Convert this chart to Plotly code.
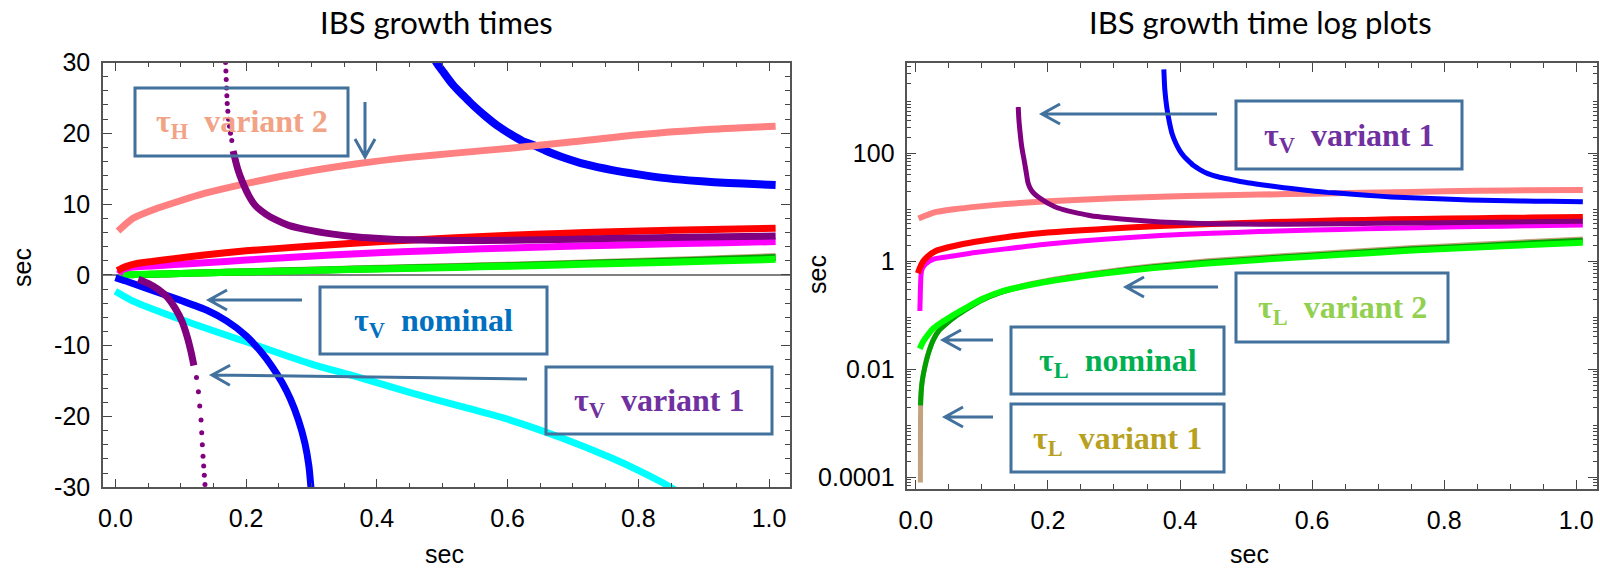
import math
import plotly.graph_objects as go

# ---------------- data ----------------
x_ticks = [0.0, 0.2, 0.4, 0.6, 0.8, 1.0]
x_ticktext = ["0.0", "0.2", "0.4", "0.6", "0.8", "1.0"]
y_ticks_lin = [-30, -20, -10, 0, 10, 20, 30]
y_ticktext_lin = ["-30", "-20", "-10", "0", "10", "20", "30"]
y_ticks_log = [1e-4, 1e-2, 1, 100]
y_ticktext_log = ["0.0001", "0.01", "1", "100"]

# tau_H variant 2 (salmon)
h2_x = [0.004, 0.027, 0.058, 0.097, 0.136, 0.2, 0.3, 0.37, 0.45, 0.52, 0.604, 0.7, 0.8, 0.9, 1.01]
h2_y = [6.2, 8.0, 9.2, 10.4, 11.5, 12.9, 14.7, 15.7, 16.6, 17.2, 17.9, 18.8, 19.8, 20.5, 21.0]

# tau_V nominal (blue), positive branch
vn_x = [0.3755, 0.377, 0.38, 0.384, 0.388, 0.394, 0.40, 0.406, 0.412, 0.42, 0.43, 0.442, 0.46, 0.475,
        0.491, 0.502, 0.515, 0.526, 0.538, 0.549, 0.565, 0.584, 0.604, 0.623, 0.643, 0.662, 0.682,
        0.72, 0.76, 0.8, 0.838, 0.877, 0.916, 0.96, 1.01]
vn_y = [3600, 1500, 700, 370, 230, 150, 110, 88, 74, 60, 50, 42, 36, 33,
        30, 28.6, 27.0, 25.9, 24.8, 23.8, 22.5, 21.1, 19.9, 18.9, 18.2, 17.4, 16.7,
        15.6, 14.8, 14.2, 13.7, 13.35, 13.1, 12.9, 12.7]
# tau_V nominal (blue), negative branch
vn_neg_x = [0.0, 0.02, 0.06, 0.1, 0.14, 0.17, 0.2, 0.222, 0.24, 0.255, 0.268, 0.28, 0.29, 0.296, 0.3]
vn_neg_y = [-0.4, -1.0, -2.3, -3.6, -5.0, -6.5, -8.6, -10.8, -13.0, -15.2, -17.6, -20.5, -23.8, -27.0, -31]

# tau_V variant 1 (purple), positive branch
v1_x = [0.155, 0.156, 0.158, 0.16, 0.162, 0.164, 0.167, 0.17, 0.175, 0.18, 0.187, 0.194, 0.204, 0.214,
        0.23, 0.245, 0.265, 0.292, 0.33, 0.37, 0.41, 0.448, 0.52, 0.604, 0.7, 0.8, 0.9, 1.01]
v1_y = [720, 420, 230, 140, 100, 74, 45, 28, 20.5, 17.5, 15.0, 13.2, 11.2, 9.8,
        8.6, 7.8, 7.0, 6.4, 5.8, 5.35, 5.1, 4.95, 4.85, 4.9, 5.05, 5.2, 5.35, 5.5]
# sampled dots of the steep part (linear panel)
v1_dots_x = [0.1685, 0.169, 0.1695, 0.170, 0.1705, 0.171, 0.172, 0.173, 0.1745, 0.176, 0.178]
v1_dots_y = [30, 28.8, 27.6, 26.4, 25.3, 24.2, 23.1, 22.0, 21.0, 20.0, 19.0]
# negative branch
v1_neg_x = [0.035, 0.05, 0.065, 0.08, 0.092, 0.102, 0.11, 0.116, 0.12]
v1_neg_y = [-0.6, -1.2, -2.0, -3.2, -4.8, -6.6, -8.8, -11.0, -12.8]
v1_neg_dots_x = [0.124, 0.127, 0.129, 0.131, 0.132, 0.133, 0.134, 0.135, 0.136, 0.137]
v1_neg_dots_y = [-14.5, -16.5, -18.5, -20.5, -22.3, -24.0, -25.6, -27.0, -28.3, -29.6]

# cyan (negative)
cy_x = [0.0, 0.027, 0.1, 0.214, 0.3, 0.37, 0.45, 0.53, 0.604, 0.682, 0.76, 0.8, 0.838, 0.86]
cy_y = [-2.3, -3.7, -6.3, -9.9, -12.6, -14.4, -16.6, -18.6, -20.5, -23.0, -25.9, -27.6, -29.4, -30.6]

# red
rd_x = [0.003, 0.006, 0.01, 0.017, 0.03, 0.056, 0.09, 0.136, 0.2, 0.29, 0.37, 0.448, 0.52, 0.604, 0.68, 0.76, 0.85, 0.93, 1.01]
rd_y = [0.6, 0.75, 0.95, 1.2, 1.55, 1.9, 2.3, 2.8, 3.4, 4.0, 4.5, 4.9, 5.25, 5.6, 5.85, 6.1, 6.3, 6.45, 6.6]

# magenta
mg_x = [0.006, 0.0065, 0.007, 0.008, 0.01, 0.015, 0.027, 0.056, 0.09, 0.136, 0.2, 0.29, 0.37, 0.448, 0.52, 0.604, 0.68, 0.76, 0.85, 0.93, 1.01]
mg_y = [0.12, 0.2, 0.35, 0.6, 0.75, 0.9, 1.1, 1.25, 1.45, 1.7, 2.1, 2.6, 3.0, 3.3, 3.55, 3.8, 4.0, 4.2, 4.4, 4.55, 4.7]

# tau_L variant 2 (bright green)
l2_x = [0.006, 0.01, 0.016, 0.025, 0.036, 0.05, 0.077, 0.1, 0.127, 0.17, 0.22, 0.288, 0.36, 0.442, 0.52, 0.597, 0.68, 0.752, 0.85, 0.93, 1.01]
l2_y = [0.024, 0.031, 0.04, 0.055, 0.07, 0.09, 0.14, 0.2, 0.27, 0.36, 0.46, 0.6, 0.75, 0.91, 1.06, 1.22, 1.4, 1.58, 1.8, 2.0, 2.2]

# tau_L nominal (dark green)
ln_x = [0.007, 0.0075, 0.0086, 0.01, 0.0136, 0.018, 0.026, 0.035, 0.0465, 0.06, 0.077, 0.1, 0.127, 0.17, 0.22, 0.288, 0.36, 0.442, 0.52, 0.597, 0.68, 0.752, 0.85, 0.93, 1.01]
ln_y = [0.00215, 0.003, 0.0047, 0.0065, 0.011, 0.018, 0.034, 0.052, 0.07, 0.095, 0.13, 0.19, 0.26, 0.36, 0.47, 0.62, 0.79, 0.97, 1.13, 1.3, 1.5, 1.7, 1.95, 2.2, 2.45]

# tau_L variant 1 (tan)
l1_x = [0.0068, 0.0069, 0.007, 0.0075, 0.0086, 0.01, 0.0136, 0.018, 0.026, 0.035, 0.0465, 0.06, 0.077, 0.1, 0.127, 0.17, 0.22, 0.288, 0.36, 0.442, 0.52, 0.597, 0.68, 0.752, 0.85, 0.93, 1.01]
l1_y = [0.00008, 0.0003, 0.0012, 0.003, 0.0048, 0.0066, 0.0112, 0.0185, 0.035, 0.054, 0.072, 0.098, 0.135, 0.2, 0.27, 0.375, 0.49, 0.65, 0.83, 1.02, 1.19, 1.37, 1.58, 1.8, 2.06, 2.33, 2.6]

# colours
C_SALMON = "#FF8080"
C_BLUE = "#0000FF"
C_PURPLE = "#800080"
C_CYAN = "#00FFFF"
C_RED = "#FF0000"
C_MAGENTA = "#FF00FF"
C_GREEN = "#00FF00"
C_DKGREEN = "#00A000"
C_TAN = "#C4A27F"
C_BOX = "#41719C"

W, H = 1600, 569


def pxx(x):
    return x / W


def pxy(y):
    return 1 - y / H


fig = go.Figure()


def line(x, y, color, width, axes, name):
    xa, ya = axes
    fig.add_trace(go.Scatter(x=x, y=y, mode="lines", line=dict(color=color, width=width, shape="spline", smoothing=0.6),
                             xaxis=xa, yaxis=ya, name=name, showlegend=False, hoverinfo="skip"))


def dots(x, y, color, size, axes, name):
    xa, ya = axes
    fig.add_trace(go.Scatter(x=x, y=y, mode="markers", marker=dict(color=color, size=size),
                             xaxis=xa, yaxis=ya, name=name, showlegend=False, hoverinfo="skip"))


L = ("x", "y")
R = ("x2", "y2")

# ---- left (linear) panel ----
line(l1_x, l1_y, C_TAN, 7, L, "tauL v1")
line(ln_x, ln_y, C_DKGREEN, 7, L, "tauL nom")
line(l2_x, l2_y, C_GREEN, 7, L, "tauL v2")
line(mg_x, mg_y, C_MAGENTA, 7, L, "magenta")
line(rd_x, rd_y, C_RED, 7, L, "red")
line(cy_x, cy_y, C_CYAN, 7, L, "cyan")
line(vn_neg_x, vn_neg_y, C_BLUE, 7, L, "tauV nom neg")
line(vn_x, vn_y, C_BLUE, 8, L, "tauV nom")
line(h2_x, h2_y, C_SALMON, 7, L, "tauH v2")
line(v1_neg_x, v1_neg_y, C_PURPLE, 7, L, "tauV v1 neg")
dots(v1_neg_dots_x, v1_neg_dots_y, C_PURPLE, 5, L, "tauV v1 neg dots")
v1_solid = [(a, b) for a, b in zip(v1_x, v1_y) if b < 19]
line([p[0] for p in v1_solid], [p[1] for p in v1_solid], C_PURPLE, 7, L, "tauV v1")
dots(v1_dots_x, v1_dots_y, C_PURPLE, 5, L, "tauV v1 dots")

# ---- right (log) panel ----
line(h2_x, h2_y, C_SALMON, 6, R, "tauH v2")
line(l1_x, l1_y, C_TAN, 5, R, "tauL v1")
line(ln_x, ln_y, C_DKGREEN, 5, R, "tauL nom")
line(l2_x, l2_y, C_GREEN, 6, R, "tauL v2")
line(mg_x, mg_y, C_MAGENTA, 5, R, "magenta")
line(rd_x, rd_y, C_RED, 6, R, "red")
line(v1_x, v1_y, C_PURPLE, 5, R, "tauV v1")
line(vn_x, vn_y, C_BLUE, 5, R, "tauV nom")

tickfont = dict(family="Liberation Sans, Arial, sans-serif", size=25, color="#000")
frame = dict(showline=True, linecolor="#555", linewidth=1.5, mirror="allticks",
             ticks="inside", ticklen=9, tickwidth=1.2, tickcolor="#444",
             showgrid=False, tickfont=tickfont, automargin=False)

minor_lin_x = dict(ticks="inside", ticklen=5, tickwidth=1, tickcolor="#444", dtick=0.05, tick0=0, showgrid=False)

log_minor = []
for k in range(-5, 4):
    for m in range(2, 10):
        log_minor.append(m * 10.0 ** k)

fig.update_layout(
    width=W, height=H,
    autosize=False,
    margin=dict(l=0, r=0, t=0, b=0, pad=0, autoexpand=False),
    paper_bgcolor="white", plot_bgcolor="white",
    xaxis=dict(domain=[103 / W, 790 / W], range=[-0.019, 1.032], anchor="y",
               tickmode="array", tickvals=x_ticks, ticktext=x_ticktext, zeroline=False,
               minor=minor_lin_x, ticklabelstandoff=8, **frame),
    yaxis=dict(domain=[pxy(487.3), pxy(62.5)], range=[-30, 30], anchor="x",
               tickmode="array", tickvals=y_ticks_lin, ticktext=y_ticktext_lin,
               minor=dict(ticks="inside", ticklen=5, tickwidth=1, tickcolor="#444", dtick=2, tick0=0, showgrid=False),
               ticklabelstandoff=6, zeroline=True, zerolinecolor="#808080", zerolinewidth=2, **frame),
    xaxis2=dict(domain=[907.3 / W, 1596.7 / W], range=[-0.013, 1.031], anchor="y2",
                tickmode="array", tickvals=x_ticks, ticktext=x_ticktext, zeroline=False,
                minor=minor_lin_x, ticklabelstandoff=8, **frame),
    yaxis2=dict(domain=[pxy(489), pxy(63.3)], type="log", range=[-4.217, 3.667], anchor="x2",
                tickmode="array", tickvals=y_ticks_log, ticktext=y_ticktext_log, zeroline=False,
                minor=dict(ticks="inside", ticklen=4, tickwidth=1, tickcolor="#444",
                           tickmode="array", tickvals=log_minor, showgrid=False),
                ticklabelstandoff=6, **frame),
)

annots = []
shapes = []

# titles
title_font = dict(family="Lato, Open Sans, sans-serif", size=31, color="#000")
annots.append(dict(text="IBS growth times", x=pxx(436), y=pxy(22), xref="paper", yref="paper",
                   showarrow=False, font=title_font, xanchor="center", yanchor="middle"))
annots.append(dict(text="IBS growth time log plots", x=pxx(1260), y=pxy(22), xref="paper", yref="paper",
                   showarrow=False, font=title_font, xanchor="center", yanchor="middle"))

# axis titles
ax_font = dict(family="Liberation Sans, Arial, sans-serif", size=25, color="#000")
for (x, y, ang) in [(444, 554, 0), (1249, 554, 0), (22, 268, -90), (817, 275, -90)]:
    annots.append(dict(text="sec", x=pxx(x), y=pxy(y), xref="paper", yref="paper", showarrow=False,
                       font=ax_font, textangle=ang, xanchor="center", yanchor="middle"))

# label boxes
NB = "\u00a0"
boxes = [
    ((135, 88, 348, 156), "τ<sub>H</sub>" + NB * 2 + "variant 2", "#F2A285"),
    ((320, 287, 547, 354), "τ<sub>V</sub>" + NB * 2 + "nominal", "#0070C0"),
    ((546, 367, 772, 434), "τ<sub>V</sub>" + NB * 2 + "variant 1", "#7030A0"),
    ((1236, 101, 1462, 169), "τ<sub>V</sub>" + NB * 2 + "variant 1", "#7030A0"),
    ((1236, 273, 1448, 342), "τ<sub>L</sub>" + NB * 2 + "variant 2", "#92D050"),
    ((1011, 327, 1224, 394), "τ<sub>L</sub>" + NB * 2 + "nominal", "#00B050"),
    ((1011, 404, 1224, 472), "τ<sub>L</sub>" + NB * 2 + "variant 1", "#B8A020"),
]
for (x0, y0, x1, y1), txt, col in boxes:
    shapes.append(dict(type="rect", xref="paper", yref="paper", x0=pxx(x0), x1=pxx(x1),
                       y0=pxy(y1), y1=pxy(y0), line=dict(color=C_BOX, width=3), fillcolor="rgba(0,0,0,0)"))
    annots.append(dict(text="<b>" + txt + "</b>", x=pxx((x0 + x1) / 2), y=pxy((y0 + y1) / 2 + 2),
                       xref="paper", yref="paper", showarrow=False, xanchor="center", yanchor="middle",
                       font=dict(family="Liberation Serif, Times New Roman, serif", size=32, color=col)))

# arrows (tail -> head), pixel positions
arrows = [
    ((365, 102), (365, 157)),
    ((302, 300), (209, 300)),
    ((527, 379), (212, 375)),
    ((1217, 114), (1042, 114)),
    ((1218, 287), (1126, 287)),
    ((993, 340), (943, 340)),
    ((993, 417), (945, 417)),
]
for (tx, ty), (hx, hy) in arrows:
    dx, dy = hx - tx, hy - ty
    n = math.hypot(dx, dy)
    ux, uy = dx / n, dy / n
    hl, hw = 18, 10
    bx, by = hx - ux * hl, hy - uy * hl
    p1 = (bx - uy * hw, by + ux * hw)
    p2 = (bx + uy * hw, by - ux * hw)
    path = (f"M {pxx(tx)},{pxy(ty)} L {pxx(hx)},{pxy(hy)} "
            f"M {pxx(p1[0])},{pxy(p1[1])} L {pxx(hx)},{pxy(hy)} L {pxx(p2[0])},{pxy(p2[1])}")
    shapes.append(dict(type="path", xref="paper", yref="paper", path=path,
                       line=dict(color=C_BOX, width=3)))

fig.update_layout(annotations=annots, shapes=shapes)

fig.write_html("out.html")
